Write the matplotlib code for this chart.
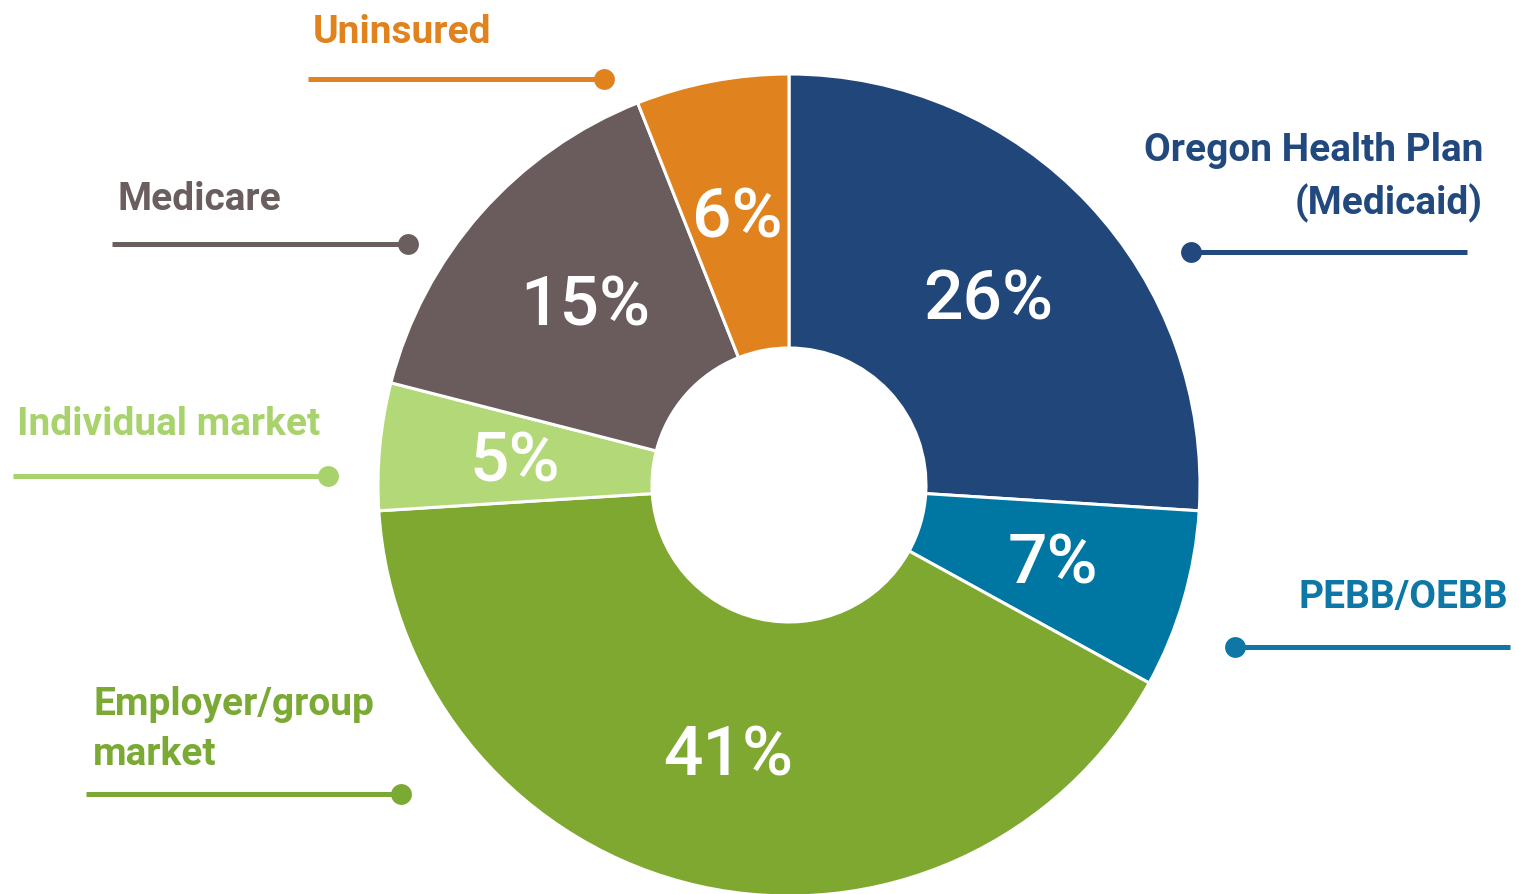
import matplotlib
matplotlib.use("Agg")
import matplotlib.pyplot as plt
from matplotlib import font_manager

# data
categories = ["Oregon Health Plan\n(Medicaid)", "PEBB/OEBB", "Employer/group\nmarket",
              "Individual market", "Medicare", "Uninsured"]
shares = [26, 7, 41, 5, 15, 6]
pct_labels = ["26%", "7%", "41%", "5%", "15%", "6%"]
colors = ["#21477a", "#0077a3", "#7ea830", "#b3d878", "#6a5c5c", "#e0821e"]
text_colors = ["#22497e", "#0e77a5", "#7aaa33", "#a8d36c", "#6a5e5e", "#e0821e"]

names = {f.name for f in font_manager.fontManager.ttflist}
fam = [f for f in ["Liberation Sans Narrow", "Roboto", "DejaVu Sans"] if f in names]
plt.rcParams['font.family'] = fam

W, H = 1519, 895
fig = plt.figure(figsize=(W / 100, H / 100), dpi=100)
ax = fig.add_axes([0, 0, 1, 1])

cx, cy, R = 789, H - 486, 411
wedges, _ = ax.pie(shares, colors=colors, startangle=90, counterclock=False,
                   center=(cx, cy), radius=R, frame=True,
                   wedgeprops=dict(width=R - 137, edgecolor="white", linewidth=2.2))

# percentage labels (pixel positions from reference)
pct_pos = [(988, 300), (1053, 565), (728, 757), (515, 462), (585, 307), (737, 218)]
for lab, (x, y) in zip(pct_labels, pct_pos):
    ax.text(x, H - y, lab, color="white", fontsize=50, fontweight=500,
            ha="center", va="center")

# category labels with leader lines
# (text x, last-line baseline y, ha, line x0, line x1, line y, dot x)
label_layout = [
    (1483, 214, "right", 1191, 1467, 253, 1191),
    (1508, 608, "right", 1235, 1510, 648, 1235),
    (93, 765, "left", 86, 401, 795, 401),
    (17, 435, "left", 13, 328, 477, 328),
    (117, 210, "left", 112, 408, 245, 408),
    (313, 43, "left", 308, 604, 80, 604),
]
for name, tc, (tx, ty, ha, x0, x1, ly, dx) in zip(categories, text_colors, label_layout):
    ax.text(tx, H - ty, name, color=tc, fontsize=28, fontweight="bold", ha=ha,
            va="baseline", linespacing=1.45, multialignment=ha)
    ax.plot([x0, x1], [H - ly, H - ly], color=tc, lw=3.6, solid_capstyle="butt")
    ax.plot(dx, H - ly, "o", color=tc, ms=15, mec="none")

ax.set_xlim(0, W)
ax.set_ylim(0, H)
ax.set_aspect("equal")
ax.axis("off")

fig.savefig("out.png", dpi=100)
